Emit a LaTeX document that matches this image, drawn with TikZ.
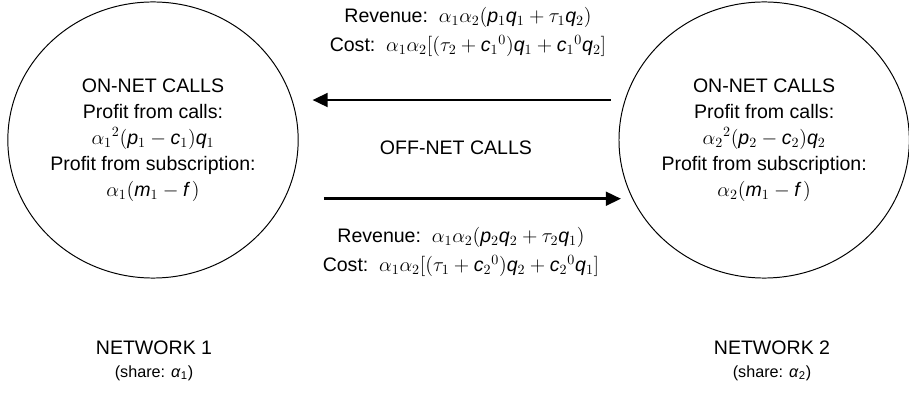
\documentclass[tikz,border=0pt]{standalone}
\usepackage{amsmath}
\usepackage{fontspec}
\setmainfont{Liberation Sans}
\DeclareSymbolFont{sansdigits}{TU}{\rmdefault}{m}{n}
\DeclareMathSymbol{0}{\mathord}{sansdigits}{`0}
\DeclareMathSymbol{1}{\mathord}{sansdigits}{`1}
\DeclareMathSymbol{2}{\mathord}{sansdigits}{`2}
\DeclareMathSymbol{(}{\mathopen}{sansdigits}{`(}
\DeclareMathSymbol{)}{\mathclose}{sansdigits}{`)}
\DeclareMathSymbol{[}{\mathopen}{sansdigits}{`[}
\DeclareMathSymbol{]}{\mathclose}{sansdigits}{`]}
\usepackage{tikz}
\usetikzlibrary{shapes.geometric,arrows.meta,positioning}
\tikzset{
    network/.style={
           ellipse,
           draw=black, line width=0.7pt,
           minimum width=7.25cm,
           minimum height=6.9cm,
           inner sep=0pt,
           align=center,
           font=\fontsize{13.9}{18.5}\selectfont,
           },
    flow/.style={
           line width=2.1pt,
           -{Triangle[length=3.8mm,width=3.4mm]},
           },
    money/.style={
           align=center,
           font=\fontsize{13.9}{21}\selectfont,
           },
    tag/.style={
           align=center,
           font=\fontsize{13.9}{16}\selectfont,
           },
}
\newcommand{\vi}[1]{\mathit{#1}}

\begin{document}
\begin{tikzpicture}[x=0.025cm, y=-0.025cm]
    \useasboundingbox (0,0) rectangle (909,399);

    % Network 1
    \node[network,      % layout (defined above)
    anchor=center] (net1) at (153,140)
    {ON-NET CALLS\\ Profit from calls:\\
     ${\alpha_1}^2(\vi{p}_1-\vi{c}_1)\vi{q}_1$\\
     Profit from subscription:\\
     $\alpha_1(\vi{m}_1-\vi{f}\,)$};

    % Network 2
    \node[network,      % layout (defined above)
    right of=net1,
    node distance=15.275cm,
    anchor=center] (net2)
    {ON-NET CALLS\\ Profit from calls:\\
     ${\alpha_2}^2(\vi{p}_2-\vi{c}_2)\vi{q}_2$\\
     Profit from subscription:\\
     $\alpha_2(\vi{m}_1-\vi{f}\,)$};

    % the payments between the two networks
    \node[money] (pay21) at (468,32)
    {Revenue:\ \ $\alpha_1\alpha_2(\vi{p}_1\vi{q}_1+\tau_1\vi{q}_2)$\\
     Cost:\ \ $\alpha_1\alpha_2[(\tau_2+{\vi{c}_1}^0)\vi{q}_1+{\vi{c}_1}^0\vi{q}_2]$};

    \node[money] (offnet) at (456,148) {OFF-NET CALLS};

    \node[money] (pay12) at (461,252)
    {Revenue:\ \ $\alpha_1\alpha_2(\vi{p}_2\vi{q}_2+\tau_2\vi{q}_1)$\\
     Cost:\ \ $\alpha_1\alpha_2[(\tau_1+{\vi{c}_2}^0)\vi{q}_2+{\vi{c}_2}^0\vi{q}_1]$};

    % names below the networks
    \node[tag] (name1) at (154,361)
    {NETWORK 1\\ {\fontsize{11.5}{14}\selectfont (share: \textit{α}\textsubscript{1})}};
    \node[tag] (name2) at (772,361)
    {NETWORK 2\\ {\fontsize{11.5}{14}\selectfont (share: \textit{α}\textsubscript{2})}};

    % draw the off-net flows
    \draw[flow, shorten <=0.35cm, shorten >=0.5cm] (net2.164) -- (net1.16);
    \draw[flow, shorten <=0.975cm, shorten >=0.28cm] (net1.-24.6) -- (net2.204.6);
\end{tikzpicture}
\end{document}
